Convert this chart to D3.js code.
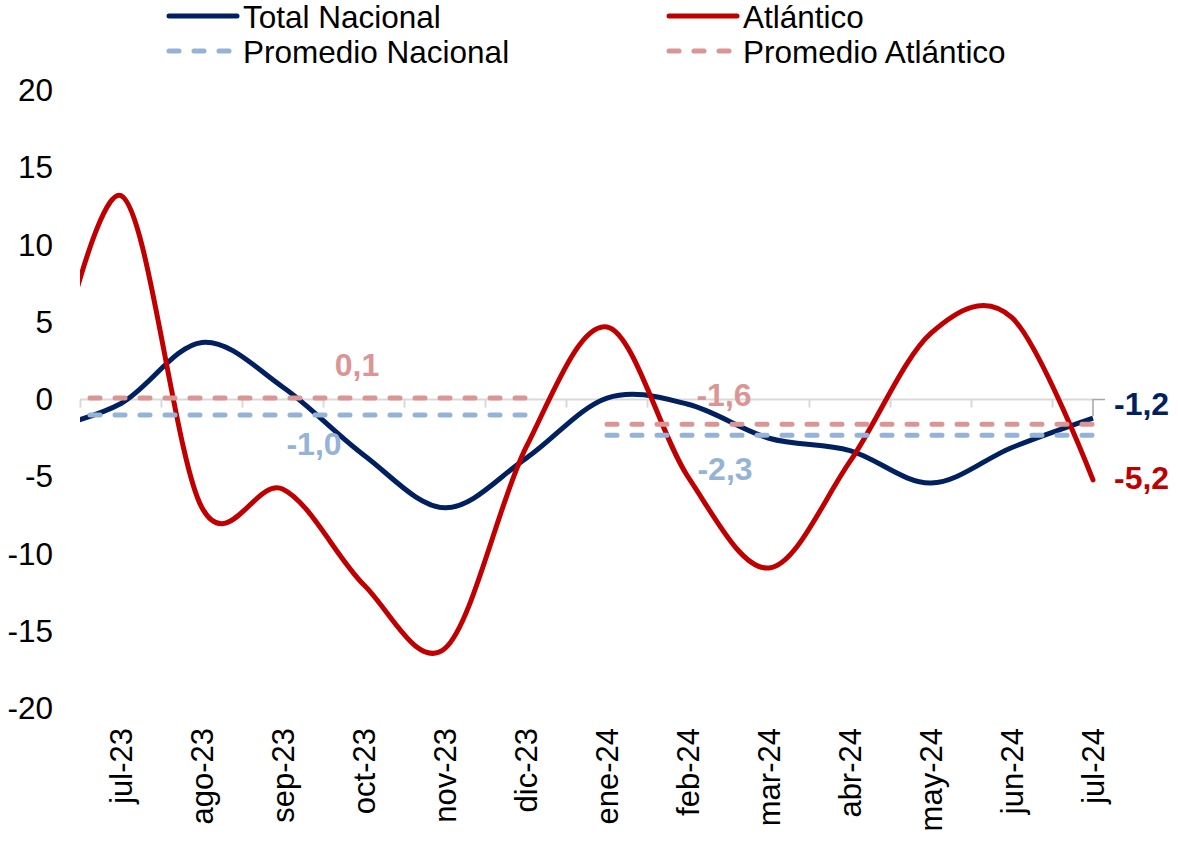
<!DOCTYPE html>
<html>
<head>
<meta charset="utf-8">
<script src="https://cdn.jsdelivr.net/npm/d3@7"></script>
<style>
  html, body { margin: 0; padding: 0; background: #ffffff; }
  svg { display: block; font-family: "Liberation Sans", Arial, sans-serif; }
</style>
</head>
<body>
<svg id="chart" width="1178" height="844"></svg>
<script>
// Monthly variation (%), June 2023 – July 2024
const months = ["jun-23", "jul-23", "ago-23", "sep-23", "oct-23", "nov-23", "dic-23",
                "ene-24", "feb-24", "mar-24", "abr-24", "may-24", "jun-24", "jul-24"];
const tickLabels = months.slice(1);

const totalNacional = [-2.0, -0.25, 3.7, 0.8, -3.6, -7.0, -3.8, 0.1, -0.3, -2.5, -3.3, -5.4, -3.1, -1.2];
const atlantico     = [-2.5, 13.2, -7.0, -5.8, -12.0, -16.1, -3.1, 4.7, -5.0, -10.9, -4.0, 4.3, 5.3, -5.2];

// Period averages: second half of 2023 and January–July 2024
const promedioNacional  = [-1.0, -1.0, -1.0, -1.0, -1.0, -1.0, -1.0, -2.3, -2.3, -2.3, -2.3, -2.3, -2.3, -2.3];
const promedioAtlantico = [0.1, 0.1, 0.1, 0.1, 0.1, 0.1, 0.1, -1.6, -1.6, -1.6, -1.6, -1.6, -1.6, -1.6];

const yTicks = [-20, -15, -10, -5, 0, 5, 10, 15, 20];

const colors = {
  total: "#002060",
  atl: "#C00000",
  promNac: "#95B3D7",
  promAtl: "#DA9694",
  axis: "#D9D9D9"
};

const FONT = 32;
const svg = d3.select("#chart");
const plotLeft = 80, plotRight = 1093;

const x = d3.scalePoint().domain(months).range([40, 1093]);
const y = d3.scaleLinear().domain([-20, 20]).range([708.6, 90.6]);

const fmt = v => v.toFixed(1).replace(".", ",");

svg.append("defs").append("clipPath").attr("id", "plotClip")
  .append("rect").attr("x", plotLeft).attr("y", 0).attr("width", 1100 - plotLeft).attr("height", 844);

// Y axis labels
const yAxis = d3.axisLeft(y).tickValues(yTicks).tickSize(0).tickPadding(25).tickFormat(d3.format("d"));
const gy = svg.append("g").attr("transform", `translate(78,0)`).call(yAxis);
gy.select(".domain").remove();
gy.selectAll("text").attr("font-size", FONT - 0.5).attr("fill", "#000").attr("font-family", "Liberation Sans, Arial, sans-serif")
  .text(d => d < 0 ? "-" + Math.abs(d) : d);

// Category axis at zero with tick marks between months
const gx = svg.append("g");
gx.append("line")
  .attr("x1", plotLeft).attr("x2", plotRight)
  .attr("y1", y(0)).attr("y2", y(0))
  .attr("stroke", colors.axis).attr("stroke-width", 2);
const mids = d3.pairs(months).map(([a, b]) => (x(a) + x(b)) / 2);
gx.selectAll("line.tick").data(mids).join("line")
  .attr("class", "tick")
  .attr("x1", d => d).attr("x2", d => d)
  .attr("y1", y(0)).attr("y2", y(0) + 8)
  .attr("stroke", colors.axis).attr("stroke-width", 2);

// Month labels, rotated
svg.append("g").selectAll("text").data(tickLabels).join("text")
  .attr("transform", d => `translate(${x(d)},728) rotate(-90)`)
  .attr("text-anchor", "end")
  .attr("dy", "0.36em")
  .attr("font-size", FONT - 1)
  .attr("fill", "#000")
  .text(d => d);

// Series
const smooth = d3.line()
  .x(d => x(d.m))
  .y(d => y(d.v))
  .curve(d3.curveCardinal.tension(0));
const straight = d3.line()
  .x(d => x(d.m))
  .y(d => y(d.v));

const toPts = arr => arr.map((v, i) => ({ m: months[i], v }));
const plot = svg.append("g").attr("clip-path", "url(#plotClip)");

plot.append("path").attr("d", smooth(toPts(totalNacional)))
  .attr("fill", "none").attr("stroke", colors.total).attr("stroke-width", 5).attr("stroke-linejoin", "round");
plot.append("path").attr("d", smooth(toPts(atlantico)))
  .attr("fill", "none").attr("stroke", colors.atl).attr("stroke-width", 5).attr("stroke-linejoin", "round").attr("stroke-linecap", "round");

// Split each average series into its period segments
function segments(arr) {
  const segs = [];
  let cur = [];
  arr.forEach((v, i) => {
    if (cur.length && cur[cur.length - 1].v !== v) { segs.push(cur); cur = []; }
    cur.push({ m: months[i], v });
  });
  if (cur.length) segs.push(cur);
  return segs;
}

[[promedioNacional, colors.promNac], [promedioAtlantico, colors.promAtl]].forEach(([arr, c]) => {
  plot.selectAll(null).data(segments(arr)).join("path")
    .attr("d", d => straight(d))
    .attr("fill", "none").attr("stroke", c).attr("stroke-width", 5)
    .attr("stroke-linecap", "round").attr("stroke-dasharray", "10,15");
});

// Leader line for the final national value
const last = months.length - 1;
svg.append("path")
  .attr("d", `M${x(months[last])},${y(totalNacional[last]) - 2}V${y(0)}H${x(months[last]) + 12}`)
  .attr("fill", "none").attr("stroke", "#A6A6A6").attr("stroke-width", 1.5);

// Value labels
const labels = [
  { text: fmt(promedioAtlantico[0]), x: 357, y: y(promedioAtlantico[0]) - 34, color: colors.promAtl, anchor: "middle" },
  { text: fmt(promedioNacional[0]), x: 314, y: y(promedioNacional[0]) + 28, color: colors.promNac, anchor: "middle" },
  { text: fmt(promedioAtlantico[last]), x: 724, y: y(promedioAtlantico[last]) - 30, color: colors.promAtl, anchor: "middle" },
  { text: fmt(promedioNacional[last]), x: 725, y: y(promedioNacional[last]) + 33, color: colors.promNac, anchor: "middle" },
  { text: fmt(totalNacional[last]), x: 1114, y: y(totalNacional[last]) - 15, color: colors.total, anchor: "start" },
  { text: fmt(atlantico[last]), x: 1114, y: y(atlantico[last]) - 2, color: colors.atl, anchor: "start" }
];
svg.append("g").selectAll("text").data(labels).join("text")
  .attr("x", d => d.x).attr("y", d => d.y)
  .attr("dy", "0.36em")
  .attr("text-anchor", d => d.anchor)
  .attr("font-size", FONT).attr("font-weight", "bold")
  .attr("fill", d => d.color)
  .text(d => d.text);

// Legend (two rows; y is the sample line, text sits on its own baseline)
const legend = [
  { name: "Total Nacional", color: colors.total, dash: null, x: 167, y: 16 },
  { name: "Atlántico", color: colors.atl, dash: null, x: 667, y: 16 },
  { name: "Promedio Nacional", color: colors.promNac, dash: "10,15", x: 167, y: 51 },
  { name: "Promedio Atlántico", color: colors.promAtl, dash: "10,15", x: 667, y: 51 }
];
const lg = svg.append("g").selectAll("g").data(legend).join("g")
  .attr("transform", d => `translate(${d.x},${d.y})`);
lg.append("line")
  .attr("x1", 2).attr("x2", d => d.dash ? 62 : 70).attr("y1", 0).attr("y2", 0)
  .attr("stroke", d => d.color).attr("stroke-width", 5).attr("stroke-linecap", "round")
  .attr("stroke-dasharray", d => d.dash);
lg.append("text")
  .attr("x", 76).attr("y", 12)
  .attr("font-size", FONT - 0.5).attr("fill", "#000")
  .text(d => d.name);
</script>
</body>
</html>
